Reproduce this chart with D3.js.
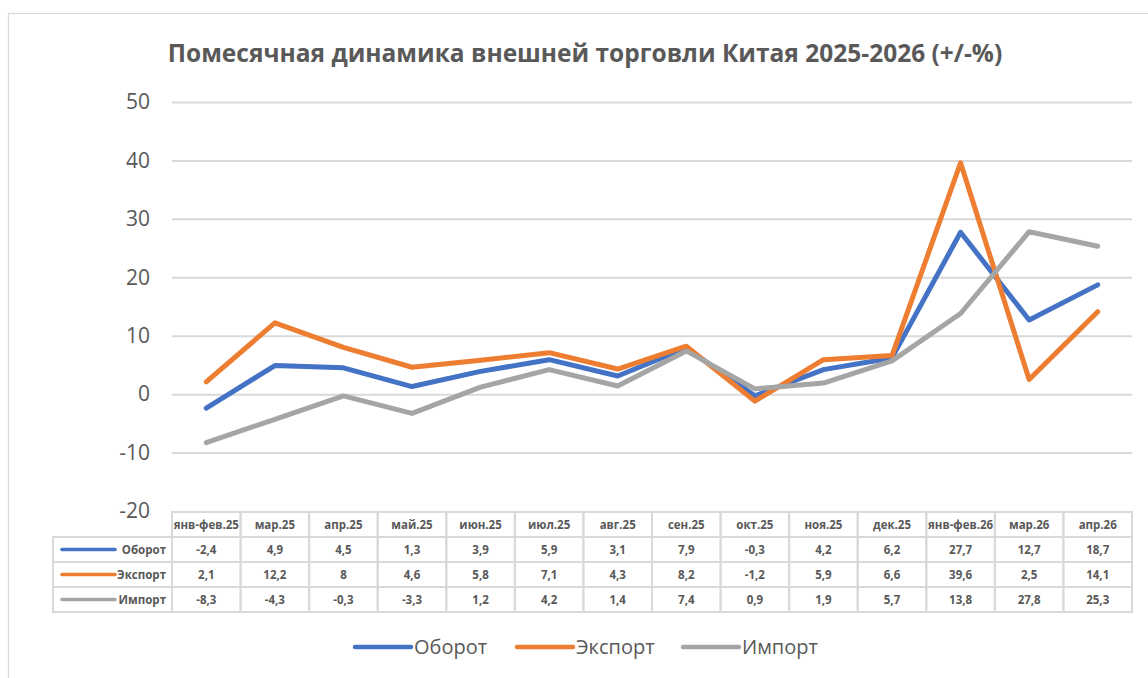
<!DOCTYPE html>
<html>
<head>
<meta charset="utf-8">
<script src="https://cdn.jsdelivr.net/npm/d3@7"></script>
<style>
  body { margin: 0; background: #fff; }
  svg text { font-family: "Open Sans", "Noto Sans", sans-serif; fill: #595959; }
</style>
</head>
<body>
<div id="chart"></div>
<script>
const categories = ["янв-фев.25", "мар.25", "апр.25", "май.25", "июн.25", "июл.25", "авг.25",
    "сен.25", "окт.25", "ноя.25", "дек.25", "янв-фев.26", "мар.26", "апр.26"];
const turnover = [-2.4, 4.9, 4.5, 1.3, 3.9, 5.9, 3.1, 7.9, -0.3, 4.2, 6.2, 27.7, 12.7, 18.7];
const exportVals = [2.1, 12.2, 8, 4.6, 5.8, 7.1, 4.3, 8.2, -1.2, 5.9, 6.6, 39.6, 2.5, 14.1];
const importVals = [-8.3, -4.3, -0.3, -3.3, 1.2, 4.2, 1.4, 7.4, 0.9, 1.9, 5.7, 13.8, 27.8, 25.3];
const yTicks = [-20, -10, 0, 10, 20, 30, 40, 50];

const series = [
    { name: "Оборот", values: turnover, color: "#4472C4" },
    { name: "Экспорт", values: exportVals, color: "#ED7D31" },
    { name: "Импорт", values: importVals, color: "#A5A5A5" }
];

const width = 1148, height = 678;
const plot = { left: 172, right: 1132, top: 102, bottom: 511 };
const rowH = 25;

const svg = d3.select("#chart").append("svg")
    .attr("width", width)
    .attr("height", height);

// chart frame (runs off the right/bottom edge as in the original)
svg.append("rect")
    .attr("x", 8.5).attr("y", 13.5)
    .attr("width", 1160).attr("height", 700)
    .attr("fill", "none")
    .attr("stroke", "#d9d9d9")
    .attr("stroke-width", 1.2);

svg.append("text")
    .attr("x", 585).attr("y", 62)
    .attr("text-anchor", "middle")
    .style("font-size", "24.5px")
    .style("font-weight", "bold")
    .text("Помесячная динамика внешней торговли Китая 2025-2026 (+/-%)");

const x = d3.scaleBand().domain(categories).range([plot.left, plot.right]).padding(0);
const y = d3.scaleLinear().domain([-20, 50]).range([plot.bottom, plot.top]);
const cx = d => x(d) + x.bandwidth() / 2;

// gridlines + y labels
const yAxis = d3.axisLeft(y).tickValues(yTicks)
    .tickSize(-(plot.right - plot.left))
    .tickPadding(22)
    .tickFormat(d => String(d));
const gy = svg.append("g")
    .attr("transform", `translate(${plot.left},0)`)
    .call(yAxis);
gy.select(".domain").remove();
gy.selectAll(".tick line")
    .attr("stroke", "#d9d9d9")
    .attr("stroke-width", 2)
    .filter(d => d === -20).remove();
gy.selectAll(".tick text")
    .style("font-size", "21px")
    .style("font-family", "'Open Sans', sans-serif")
    .attr("fill", "#595959");

// lines
const line = d3.line()
    .x((d, i) => cx(categories[i]))
    .y(d => y(d));

svg.append("g").selectAll("path")
    .data(series)
    .join("path")
    .attr("d", d => line(d.values))
    .attr("fill", "none")
    .attr("stroke", d => d.color)
    .attr("stroke-width", 5)
    .attr("stroke-linejoin", "round")
    .attr("stroke-linecap", "round");

// data table
const table = svg.append("g");
const tTop = plot.bottom + 1;
const keyLeft = 53;
const gridColor = "#d9d9d9";

// header row cells
table.selectAll("rect.head")
    .data(categories)
    .join("rect")
    .attr("class", "head")
    .attr("x", d => x(d)).attr("y", tTop)
    .attr("width", x.bandwidth()).attr("height", rowH)
    .attr("fill", "none").attr("stroke", gridColor).attr("stroke-width", 2);

table.selectAll("text.head")
    .data(categories)
    .join("text")
    .attr("class", "head")
    .attr("x", d => cx(d)).attr("y", tTop + rowH / 2 + 4)
    .attr("text-anchor", "middle")
    .style("font-size", "11.5px")
    .style("font-weight", "bold")
    .text(d => d);

series.forEach((s, r) => {
    const ry = tTop + rowH * (r + 1);
    const row = table.append("g");
    row.append("rect")
        .attr("x", keyLeft).attr("y", ry)
        .attr("width", plot.left - keyLeft).attr("height", rowH)
        .attr("fill", "none").attr("stroke", gridColor).attr("stroke-width", 2);
    row.append("line")
        .attr("x1", keyLeft + 9).attr("x2", keyLeft + 62)
        .attr("y1", ry + rowH / 2).attr("y2", ry + rowH / 2)
        .attr("stroke", s.color).attr("stroke-width", 3.5)
        .attr("stroke-linecap", "round");
    row.append("text")
        .attr("x", plot.left - 6).attr("y", ry + rowH / 2 + 4)
        .attr("text-anchor", "end")
        .style("font-size", "11.5px")
        .style("font-weight", "bold")
        .text(s.name);
    row.selectAll("rect.cell")
        .data(categories)
        .join("rect")
        .attr("class", "cell")
        .attr("x", d => x(d)).attr("y", ry)
        .attr("width", x.bandwidth()).attr("height", rowH)
        .attr("fill", "none").attr("stroke", gridColor).attr("stroke-width", 2);
    row.selectAll("text.cell")
        .data(s.values)
        .join("text")
        .attr("class", "cell")
        .attr("x", (d, i) => cx(categories[i])).attr("y", ry + rowH / 2 + 4)
        .attr("text-anchor", "middle")
        .style("font-size", "11.5px")
        .style("font-weight", "bold")
        .text(d => String(d).replace(".", ","));
});

// legend
const legendX = [355, 517, 683];
const legend = svg.append("g");
series.forEach((s, i) => {
    legend.append("line")
        .attr("x1", legendX[i]).attr("x2", legendX[i] + 56)
        .attr("y1", 647).attr("y2", 647)
        .attr("stroke", s.color).attr("stroke-width", 4.5)
        .attr("stroke-linecap", "round");
    legend.append("text")
        .attr("x", legendX[i] + 59).attr("y", 654)
        .style("font-size", "20px")
        .text(s.name);
});
</script>
</body>
</html>
